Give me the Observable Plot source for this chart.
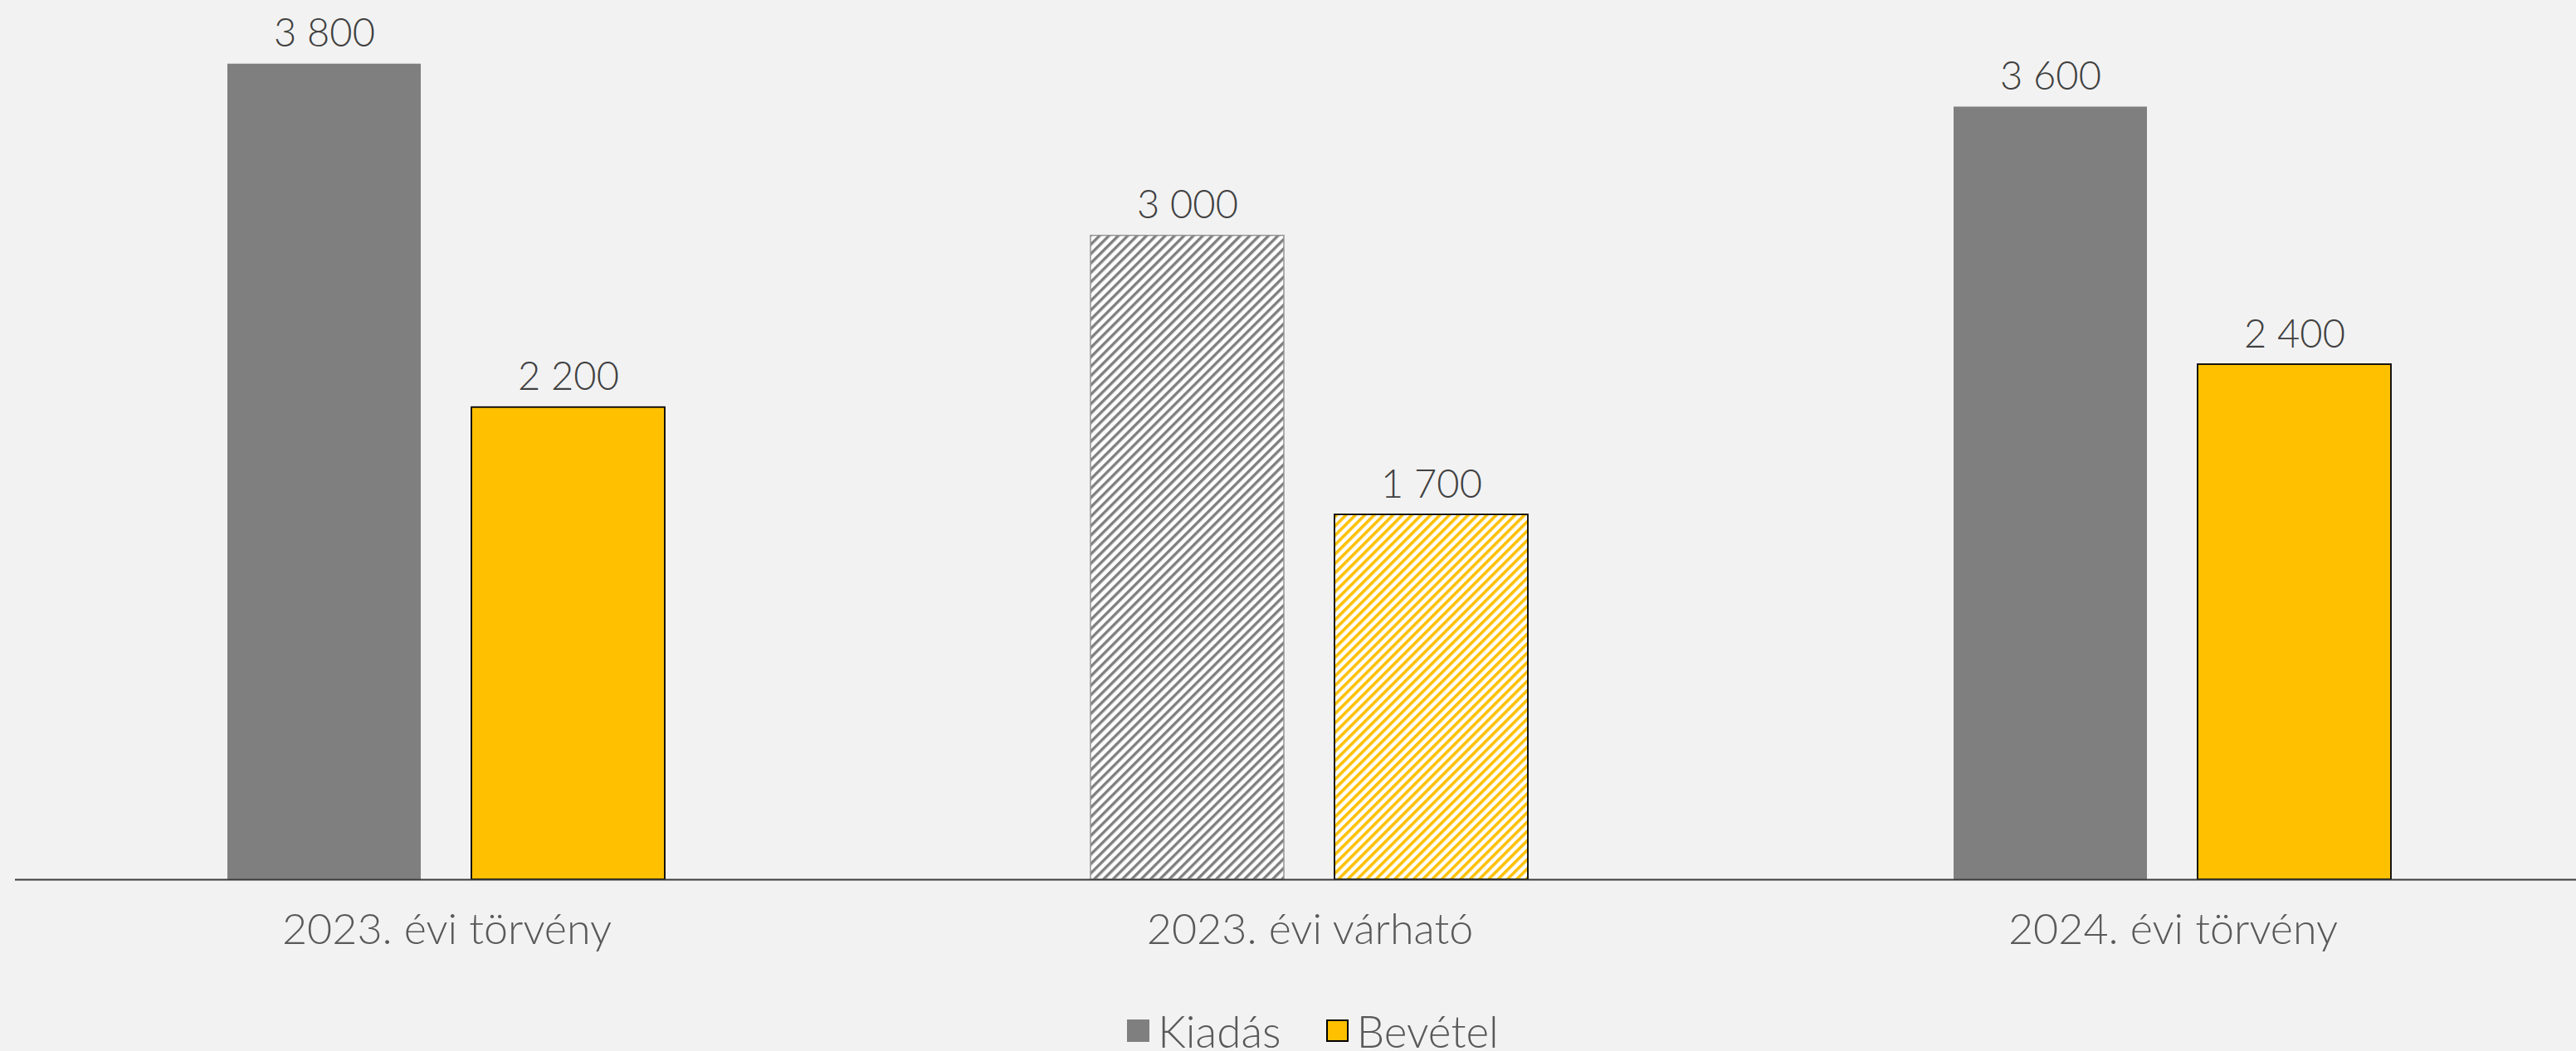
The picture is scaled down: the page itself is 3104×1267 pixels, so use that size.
<!DOCTYPE html>
<html>
<head>
<meta charset="utf-8">
<script src="https://cdn.jsdelivr.net/npm/d3@7"></script>
<script src="https://cdn.jsdelivr.net/npm/@observablehq/plot@0.6"></script>
<style>
  html, body { margin: 0; padding: 0; background: #f2f2f2; overflow: hidden; }
  #chart svg { display: block; }
  .legend { display: flex; justify-content: center; align-items: center; padding-left: 60px; padding-top: 16px;
            font-family: Lato, "Open Sans", sans-serif; font-weight: 300; font-size: 53px; line-height: 1; color: #595959; }
  .item { display: flex; align-items: center; }
  .item + .item { margin-left: 54px; }
  .sw { width: 27px; height: 27px; box-sizing: border-box; margin-right: 10px; display: inline-block; }
</style>
</head>
<body>
<div id="chart"></div>
<div class="legend" id="legend"></div>
<script>
// ---- data ----
const groups = ["2023. évi törvény", "2023. évi várható", "2024. évi törvény"];
const series = ["Kiadás", "Bevétel"];
const kiadas = [3800, 3000, 3600];
const bevetel = [2200, 1700, 2400];
const estimated = [false, true, false];
const seriesColors = ["#7f7f7f", "#FFC000"];
const seriesStrokes = ["none", "#000000"];

// ---- build table ----
const rows = [];
groups.forEach((g, i) => {
  rows.push({group: g, series: series[0], value: kiadas[i], estimated: estimated[i]});
  rows.push({group: g, series: series[1], value: bevetel[i], estimated: estimated[i]});
});

const fmt = d3.formatLocale({decimal: ",", thousands: "\u00a0", grouping: [3], currency: ["", ""]}).format(",d");

const pick = (s, est) => rows.filter(d => d.series === s && d.estimated === est);

const chart = Plot.plot({
  width: 3104,
  height: 1200,
  marginLeft: 17,
  marginRight: -34,
  marginTop: 25,
  marginBottom: 140,
  style: {fontFamily: "Lato, 'Open Sans', sans-serif", fontWeight: 300, background: "transparent"},
  fx: {domain: groups, padding: 0, label: null},
  x: {domain: series, paddingInner: 0.207, paddingOuter: 0.867, axis: null},
  y: {domain: [0, 4000], axis: null},
  marks: [
    Plot.barY(pick(series[0], false), {fx: "group", x: "series", y: "value", fill: seriesColors[0]}),
    Plot.barY(pick(series[1], false), {fx: "group", x: "series", y: "value", fill: seriesColors[1], stroke: seriesStrokes[1], strokeWidth: 1.8}),
    Plot.barY(pick(series[0], true), {fx: "group", x: "series", y: "value", fill: "url(#hatchGray)", stroke: "#959595", strokeWidth: 1.5}),
    Plot.barY(pick(series[1], true), {fx: "group", x: "series", y: "value", fill: "url(#hatchYellow)", stroke: seriesStrokes[1], strokeWidth: 1.8}),
    Plot.ruleY([0], {stroke: "#3a3a3a", strokeWidth: 2}),
    Plot.text(rows, {fx: "group", x: "series", y: "value", text: d => fmt(d.value), lineAnchor: "bottom", dy: -21, fontSize: 47, fill: "#404040"}),
    Plot.axisFx({anchor: "bottom", tickSize: 0, tickPadding: 41, fontSize: 52, fill: "#595959", label: null})
  ]
});

d3.select(chart).insert("defs", ":first-child").html(`
  <pattern id="hatchGray" patternUnits="userSpaceOnUse" width="8" height="8" patternTransform="rotate(45)">
    <rect width="8" height="8" fill="#ffffff"></rect>
    <rect width="3.4" height="8" fill="${seriesColors[0]}"></rect>
  </pattern>
  <pattern id="hatchYellow" patternUnits="userSpaceOnUse" width="8" height="8" patternTransform="rotate(45)">
    <rect width="8" height="8" fill="#ffffff"></rect>
    <rect width="3.6" height="8" fill="${seriesColors[1]}"></rect>
  </pattern>`);

document.getElementById("chart").appendChild(chart);

// ---- legend ----
const legend = d3.select("#legend");
series.forEach((s, i) => {
  const item = legend.append("div").attr("class", "item");
  item.append("span").attr("class", "sw")
    .style("background", seriesColors[i])
    .style("border", seriesStrokes[i] === "none" ? "none" : `2px solid ${seriesStrokes[i]}`);
  item.append("span").text(s);
});
</script>
</body>
</html>
